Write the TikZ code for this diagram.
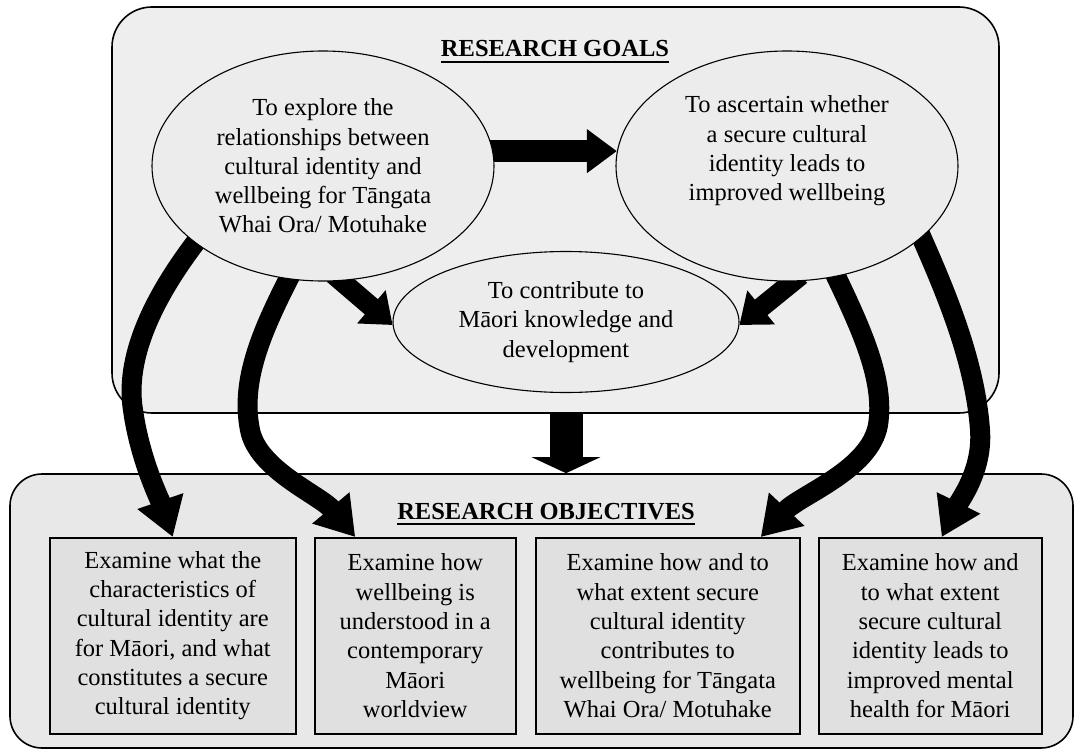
\documentclass[tikz,border=0pt]{standalone}
\usepackage{fontspec}
\setmainfont{Liberation Serif}
\usetikzlibrary{arrows.meta,shapes.geometric,calc}
\pgfdeclarelayer{bg}
\pgfdeclarelayer{arw}
\pgfsetlayers{bg,arw,main}

\begin{document}
\begin{tikzpicture}[x=1pt,y=-1pt,
  every node/.style={font=\fontsize{24.5}{29.3}\selectfont, text=black},
  frame/.style={rectangle, draw=black, line width=1.6pt, rounded corners=#1, inner sep=0pt},
  goal/.style={ellipse, draw=black, line width=1.1pt, fill=gray!15, inner sep=0pt,
    minimum width=342pt, minimum height=230pt, align=center},
  objbox/.style={rectangle, draw=black, line width=1.5pt, fill=gray!24, inner sep=0pt,
    minimum height=196pt, align=center, anchor=north west},
  gtext/.style={align=center, inner sep=0pt},
  title/.style={anchor=base, inner sep=0pt, font=\fontsize{24.5}{29.3}\selectfont\bfseries},
  rule/.style={line width=1.6pt},
  bigarrow/.style={line width=20pt, -{Triangle[length=38pt,width=46pt]}, shorten <=-12pt},
  midarrow/.style={line width=20pt, -{Triangle[length=28pt,width=42pt]}, shorten <=-10pt},
  harrow/.style={line width=22pt, -{Triangle[length=30pt,width=42pt]}, shorten <=-6pt},
  darrow/.style={line width=33pt, -{Triangle[length=16pt,width=68pt]}},
]
\useasboundingbox (0,0) rectangle (1076,752);

% the two framing panels
\begin{pgfonlayer}{bg}
  \node[frame=40pt, fill=gray!13, minimum width=887pt, minimum height=406pt] (goalsframe) at (555.5,210) {};
  \node[frame=32pt, fill=gray!18, minimum width=1063pt, minimum height=274pt] (objframe) at (541.5,611) {};
\end{pgfonlayer}

% panel headings
\node[title] (goalstitle) at (555,57) {RESEARCH GOALS};
\draw[rule] ([yshift=-5pt]goalstitle.base west) -- ([yshift=-5pt]goalstitle.base east);
\node[title] (objtitle) at (546,519) {RESEARCH OBJECTIVES};
\draw[rule] ([yshift=-5pt]objtitle.base west) -- ([yshift=-5pt]objtitle.base east);

% research goals
\node[goal] (g1) at (323,166) {To explore the\\relationships between\\cultural identity and\\wellbeing for Tāngata\\Whai Ora/ Motuhake};
\node[goal] (g2) at (787,166) {};
\node[gtext] (g2t) at (787,151) {To ascertain whether\\a secure cultural\\identity leads to\\improved wellbeing};
\node[goal, minimum width=346pt, minimum height=141pt] (g3) at (566,322) {To contribute to\\Māori knowledge and\\development};

% research objectives
\node[objbox, minimum width=246pt] (o1) at (49,537) {Examine what the\\characteristics of\\cultural identity are\\for Māori, and what\\constitutes a secure\\cultural identity};
\node[objbox, minimum width=201pt] (o2) at (314,537) {Examine how\\wellbeing is\\understood in a\\contemporary\\Māori\\worldview};
\node[objbox, minimum width=264pt] (o3) at (535,537) {Examine how and to\\what extent secure\\cultural identity\\contributes to\\wellbeing for Tāngata\\Whai Ora/ Motuhake};
\node[objbox, minimum width=223pt] (o4) at (818,537) {Examine how and\\to what extent\\secure cultural\\identity leads to\\improved mental\\health for Māori};

% block arrows
\begin{pgfonlayer}{arw}
  \draw[harrow] (g1.5) -- (g2.175);
  \draw[midarrow] (g1.279) -- (g3.181);
  \draw[midarrow] (g2.273) -- (g3.359);
  \draw[darrow] (g3.south |- goalsframe.south) -- (g3.south |- objframe.north);
  \draw[bigarrow] (g1.211) .. controls (150,300) and (125,360) .. (133,410)
    .. controls (140,460) and (160,500) .. (o1.north);
  \draw[bigarrow] (g1.253) .. controls (262,330) and (240,380) .. (250,430)
    .. controls (258,470) and (320,495) .. ($(o2.north)+(-60,0)$);
  \draw[bigarrow] (g2.294) .. controls (862,330) and (885,380) .. (878,425)
    .. controls (870,470) and (800,495) .. ($(o3.north)+(93,0)$);
  \draw[bigarrow] (g2.332) .. controls (945,290) and (975,360) .. (980,430)
    .. controls (983,470) and (960,500) .. ($(o4.north)+(11.5,0)$);
\end{pgfonlayer}
\end{tikzpicture}
\end{document}
